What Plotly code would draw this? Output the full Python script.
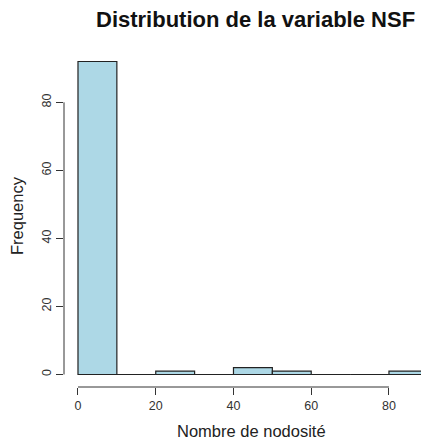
import plotly.graph_objects as go

# histogram of NSF (bins of width 10)
bin_starts = [0, 10, 20, 30, 40, 50, 60, 70, 80]
counts = [92, 0, 1, 0, 2, 1, 0, 0, 1]
bin_width = 10
x_ticks = [0, 20, 40, 60, 80]
y_ticks = [0, 20, 40, 60, 80]

# page body keeps its default 8px margin, so shift everything up/left
OFF = 8
W, H = 429 - OFF, 441 - OFF
ml, mt = 64 - OFF, 49 - OFF
mr, mb = 0, 441 - 387
pw, ph = W - ml - mr, H - mt - mb

def px_x(p):
    return (p - OFF - ml) / pw

def px_y(p):
    return (H - mb - (p - OFF)) / ph

fig = go.Figure(go.Bar(
    x=[s + bin_width / 2 for s in bin_starts],
    y=counts,
    width=bin_width,
    marker=dict(color="#ADD8E6", line=dict(color="#222222", width=1.2)),
))

font = "Liberation Sans, Arial, sans-serif"
fig.update_layout(
    width=W, height=H,
    margin=dict(l=ml, r=mr, t=mt, b=mb, pad=0),
    plot_bgcolor="white", paper_bgcolor="white",
    showlegend=False,
    font=dict(family=font, color="#222222"),
    xaxis=dict(range=[-3.6, 90.3], tickvals=x_ticks, ticks="outside", ticklen=7,
               tickcolor="#333333", showgrid=False, zeroline=False, showline=False,
               tickfont=dict(size=12.5, color="#333333")),
    yaxis=dict(range=[-3.68, 95.68], tickvals=y_ticks, ticks="outside", ticklen=7,
               tickcolor="#333333", showgrid=False, zeroline=False, showline=False,
               tickangle=-90, tickfont=dict(size=12.5, color="#333333")),
    shapes=[
        dict(type="line", xref="x", yref="paper", x0=min(x_ticks), x1=max(x_ticks),
             y0=0, y1=0, line=dict(color="#333333", width=1)),
        dict(type="line", xref="paper", yref="y", x0=0, x1=0,
             y0=min(y_ticks), y1=max(y_ticks), line=dict(color="#333333", width=1)),
    ],
    annotations=[
        dict(text="<b>Distribution de la variable NSF</b>", xref="paper", yref="paper",
             x=px_x(256), y=px_y(20), xanchor="center", yanchor="middle",
             showarrow=False, font=dict(size=22, color="#111111")),
        dict(text="Nombre de nodosité", xref="paper", yref="paper",
             x=px_x(251), y=px_y(431), xanchor="center", yanchor="middle",
             showarrow=False, font=dict(size=16.5)),
        dict(text="Frequency", xref="paper", yref="paper", textangle=-90,
             x=px_x(17), y=px_y(216), xanchor="center", yanchor="middle",
             showarrow=False, font=dict(size=16.5)),
    ],
)

fig.write_html("out.html")
